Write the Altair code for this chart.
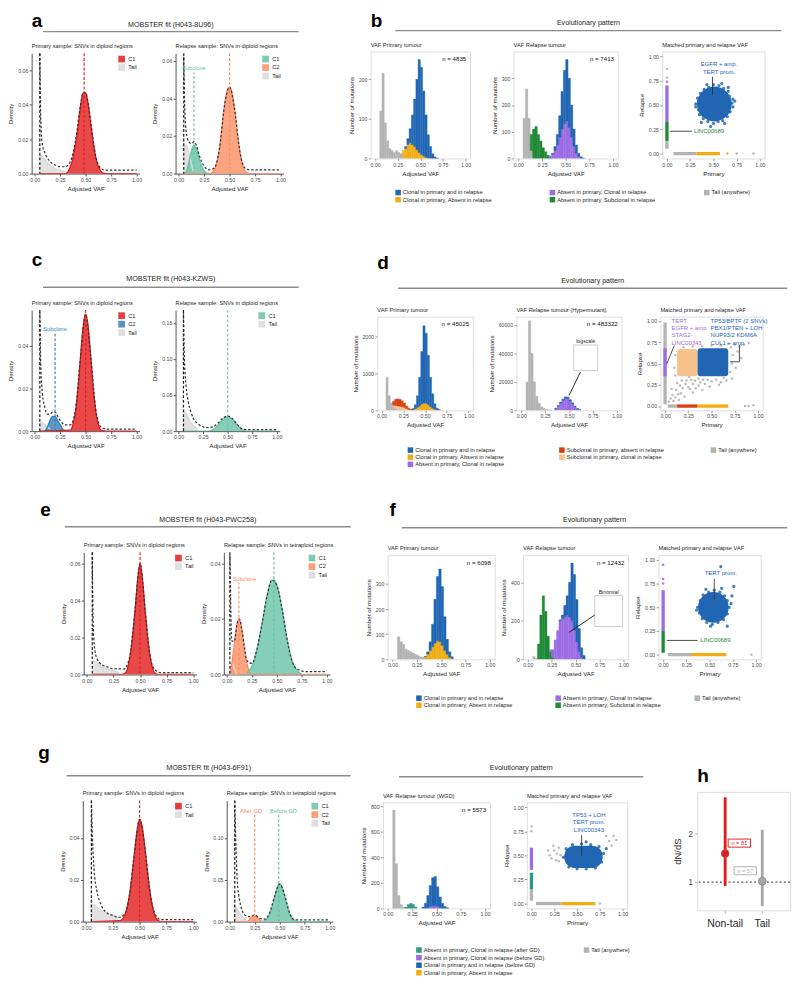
import altair as alt
import pandas as pd

FONT = "Liberation Sans"
TXT = "#262626"
AXC = "#4d4d4d"

# ---------------- colours ----------------
C_TAIL = "#d9d9d9"
C_RED = "#e41a1c"
C_GREEN = "#66c2a5"
C_ORANGE = "#fc8d62"
C_BLUE = "#377eb8"
E_BLUE = "#2166b3"
E_ORANGE = "#f2ad13"
E_PURPLE = "#9c6ce6"
E_GREEN = "#1e8a36"
E_RED = "#d8410f"
E_PEACH = "#f7c18c"
E_GRAY = "#b3b3b3"
E_TEAL = "#2e9b88"
H_GRAY = "#a6a6a6"

VAF_TICKS = [0, 0.25, 0.5, 0.75, 1.0]

# ================= MOBSTER density panels =================
A1_TAIL_X = [0.05, 0.075, 0.1, 0.125, 0.15, 0.175, 0.2, 0.25, 0.3]
A1_TAIL_Y = [0.011, 0.010, 0.008, 0.006, 0.005, 0.004, 0.003, 0.002, 0.001]
A1_C1_X = [0.05, 0.3, 0.325, 0.35, 0.375, 0.4, 0.425, 0.45, 0.475, 0.5, 0.525, 0.55, 0.575, 0.6, 0.625, 0.65, 0.675, 0.7, 1.0]
A1_C1_Y = [0.0, 0.0, 0.001, 0.004, 0.009, 0.017, 0.027, 0.039, 0.047, 0.047, 0.040, 0.029, 0.018, 0.009, 0.004, 0.0015, 0.0003, 0.0, 0.0]
A1_FIT_X = [0.05, 0.06, 0.075, 0.1, 0.125, 0.15, 0.2, 0.25, 0.3, 0.35, 0.4, 0.45, 0.475, 0.5, 0.525, 0.55, 0.6, 0.65, 0.7, 0.8, 0.9, 1.0]
A1_FIT_Y = [0.07, 0.03, 0.017, 0.012, 0.009, 0.007, 0.005, 0.004, 0.004, 0.007, 0.019, 0.040, 0.047, 0.047, 0.041, 0.030, 0.010, 0.003, 0.002, 0.002, 0.002, 0.002]
A2_TAIL_X = [0.05, 0.075, 0.1, 0.125, 0.15]
A2_TAIL_Y = [0.014, 0.015, 0.011, 0.005, 0.0]
A2_C1_X = [0.05, 0.075, 0.1, 0.125, 0.15, 0.175, 0.2, 0.225, 0.25, 0.275, 0.3]
A2_C1_Y = [0.0, 0.001, 0.006, 0.012, 0.015, 0.013, 0.008, 0.004, 0.0015, 0.0003, 0.0]
A2_C2_X = [0.05, 0.3, 0.325, 0.35, 0.375, 0.4, 0.425, 0.45, 0.475, 0.5, 0.525, 0.55, 0.575, 0.6, 0.625, 0.65, 0.675, 0.7, 1.0]
A2_C2_Y = [0.0, 0.0, 0.0005, 0.002, 0.006, 0.013, 0.024, 0.036, 0.044, 0.046, 0.043, 0.034, 0.022, 0.012, 0.005, 0.0015, 0.0003, 0.0, 0.0]
A2_FIT_X = [0.05, 0.06, 0.075, 0.1, 0.125, 0.15, 0.175, 0.2, 0.25, 0.3, 0.35, 0.4, 0.45, 0.5, 0.55, 0.6, 0.65, 0.7, 0.8, 0.9, 1.0]
A2_FIT_Y = [0.062, 0.035, 0.022, 0.017, 0.016, 0.017, 0.015, 0.01, 0.004, 0.002, 0.003, 0.013, 0.036, 0.046, 0.034, 0.012, 0.003, 0.002, 0.002, 0.002, 0.002]
C1_TAIL_X = [0.05, 0.075, 0.1, 0.125, 0.15]
C1_TAIL_Y = [0.004, 0.004, 0.003, 0.002, 0.001]
C1_C2_X = [0.1, 0.125, 0.15, 0.175, 0.2, 0.225, 0.25, 0.275, 0.3]
C1_C2_Y = [0.0, 0.002, 0.005, 0.007, 0.007, 0.005, 0.003, 0.001, 0.0]
C1_C1_X = [0.05, 0.35, 0.375, 0.4, 0.425, 0.45, 0.475, 0.5, 0.525, 0.55, 0.575, 0.6, 0.625, 0.65, 0.7, 1.0]
C1_C1_Y = [0.0, 0.0005, 0.003, 0.009, 0.02, 0.035, 0.049, 0.055, 0.049, 0.035, 0.02, 0.009, 0.003, 0.0005, 0.0, 0.0]
C1_FIT_X = [0.05, 0.06, 0.075, 0.1, 0.125, 0.15, 0.175, 0.2, 0.225, 0.25, 0.3, 0.35, 0.4, 0.45, 0.5, 0.55, 0.6, 0.65, 0.7, 0.8, 0.9, 1.0]
C1_FIT_Y = [0.056, 0.03, 0.018, 0.011, 0.008, 0.008, 0.009, 0.009, 0.007, 0.005, 0.003, 0.003, 0.01, 0.035, 0.055, 0.035, 0.01, 0.002, 0.001, 0.001, 0.001, 0.001]
C2_TAIL_X = [0.05, 0.075, 0.1, 0.125, 0.15, 0.175, 0.2]
C2_TAIL_Y = [0.03, 0.025, 0.018, 0.012, 0.008, 0.005, 0.002]
C2_C1_X = [0.05, 0.3, 0.35, 0.4, 0.45, 0.5, 0.55, 0.6, 0.65, 0.7, 1.0]
C2_C1_Y = [0.0, 0.0, 0.002, 0.008, 0.016, 0.02, 0.016, 0.008, 0.002, 0.0, 0.0]
C2_FIT_X = [0.05, 0.06, 0.075, 0.1, 0.125, 0.15, 0.2, 0.25, 0.3, 0.35, 0.4, 0.45, 0.5, 0.55, 0.6, 0.65, 0.7, 0.8, 0.9, 1.0]
C2_FIT_Y = [0.165, 0.1, 0.065, 0.04, 0.027, 0.018, 0.01, 0.006, 0.005, 0.006, 0.011, 0.018, 0.021, 0.017, 0.009, 0.003, 0.002, 0.002, 0.002, 0.002]
E1_TAIL_X = [0.05, 0.075, 0.1, 0.15, 0.2, 0.25, 0.3]
E1_TAIL_Y = [0.007, 0.007, 0.006, 0.004, 0.003, 0.002, 0.001]
E1_C1_X = [0.05, 0.33, 0.35, 0.375, 0.4, 0.425, 0.45, 0.475, 0.5, 0.525, 0.55, 0.575, 0.6, 0.625, 0.65, 0.68, 1.0]
E1_C1_Y = [0.0, 0.0, 0.0004, 0.002, 0.008, 0.018, 0.033, 0.05, 0.06, 0.05, 0.033, 0.018, 0.008, 0.002, 0.0004, 0.0, 0.0]
E1_FIT_X = [0.05, 0.06, 0.075, 0.1, 0.15, 0.2, 0.25, 0.3, 0.35, 0.4, 0.45, 0.5, 0.55, 0.6, 0.65, 0.7, 0.8, 0.9, 1.0]
E1_FIT_Y = [0.066, 0.025, 0.013, 0.008, 0.005, 0.004, 0.003, 0.003, 0.003, 0.009, 0.033, 0.06, 0.033, 0.008, 0.002, 0.001, 0.001, 0.001, 0.001]
E2_TAIL_X = [0.03, 0.05, 0.075, 0.1]
E2_TAIL_Y = [0.004, 0.004, 0.002, 0.0]
E2_C2_X = [0.03, 0.05, 0.075, 0.1, 0.125, 0.15, 0.175, 0.2, 0.225, 0.25, 1.0]
E2_C2_Y = [0.0, 0.004, 0.011, 0.018, 0.02, 0.016, 0.009, 0.004, 0.001, 0.0, 0.0]
E2_C1_X = [0.2, 0.25, 0.3, 0.35, 0.4, 0.45, 0.475, 0.5, 0.55, 0.6, 0.65, 0.7, 0.75]
E2_C1_Y = [0.0006, 0.003, 0.009, 0.018, 0.028, 0.034, 0.034, 0.032, 0.024, 0.013, 0.005, 0.0015, 0.0]
E2_FIT_X = [0.03, 0.05, 0.075, 0.1, 0.125, 0.15, 0.175, 0.2, 0.25, 0.3, 0.35, 0.4, 0.45, 0.5, 0.55, 0.6, 0.65, 0.7, 0.8, 0.9, 1.0]
E2_FIT_Y = [0.043, 0.012, 0.012, 0.018, 0.02, 0.016, 0.01, 0.005, 0.004, 0.009, 0.018, 0.028, 0.034, 0.032, 0.024, 0.013, 0.005, 0.002, 0.001, 0.001, 0.001]
G1_TAIL_X = [0.05, 0.075, 0.1, 0.15, 0.2, 0.25, 0.3]
G1_TAIL_Y = [0.008, 0.008, 0.007, 0.005, 0.004, 0.003, 0.002]
G1_C1_X = [0.05, 0.32, 0.35, 0.375, 0.4, 0.425, 0.45, 0.475, 0.5, 0.525, 0.55, 0.575, 0.6, 0.625, 0.65, 0.675, 0.7, 1.0]
G1_C1_Y = [0.0, 0.0005, 0.002, 0.005, 0.011, 0.02, 0.032, 0.043, 0.049, 0.045, 0.035, 0.023, 0.013, 0.006, 0.002, 0.0005, 0.0, 0.0]
G1_FIT_X = [0.05, 0.06, 0.075, 0.1, 0.125, 0.15, 0.2, 0.25, 0.3, 0.35, 0.4, 0.45, 0.5, 0.55, 0.6, 0.65, 0.7, 0.8, 0.9, 1.0]
G1_FIT_Y = [0.058, 0.04, 0.025, 0.015, 0.01, 0.007, 0.004, 0.003, 0.002, 0.003, 0.011, 0.032, 0.049, 0.035, 0.013, 0.003, 0.001, 0.001, 0.001, 0.001]
G2_TAIL_X = [0.05, 0.075, 0.1, 0.125, 0.15, 0.175]
G2_TAIL_Y = [0.02, 0.015, 0.01, 0.006, 0.003, 0.0]
G2_C2_X = [0.05, 0.175, 0.2, 0.225, 0.25, 0.275, 0.3, 0.325]
G2_C2_Y = [0.0, 0.0, 0.003, 0.006, 0.007, 0.005, 0.002, 0.0]
G2_C1_X = [0.3, 0.35, 0.375, 0.4, 0.425, 0.45, 0.475, 0.5, 0.525, 0.55, 0.575, 0.6, 0.625, 0.65, 0.7, 1.0]
G2_C1_Y = [0.0, 0.001, 0.004, 0.009, 0.018, 0.03, 0.041, 0.045, 0.041, 0.03, 0.018, 0.009, 0.004, 0.001, 0.0, 0.0]
G2_FIT_X = [0.05, 0.06, 0.075, 0.1, 0.125, 0.15, 0.2, 0.25, 0.3, 0.35, 0.4, 0.45, 0.5, 0.55, 0.6, 0.65, 0.7, 0.8, 0.9, 1.0]
G2_FIT_Y = [0.145, 0.1, 0.05, 0.025, 0.013, 0.008, 0.006, 0.008, 0.004, 0.003, 0.011, 0.031, 0.045, 0.031, 0.01, 0.002, 0.002, 0.002, 0.002, 0.002]

# ================= VAF histograms (bin starts, width 0.025) =================
HIST_BINS = [0.05, 0.075, 0.1, 0.125, 0.15, 0.175, 0.2, 0.225, 0.25, 0.275, 0.3, 0.325, 0.35,
             0.375, 0.4, 0.425, 0.45, 0.475, 0.5, 0.525, 0.55, 0.575, 0.6, 0.625, 0.65, 0.675]
BIN_W = 0.025
B1_TAIL   = [120, 215, 90, 45, 25, 20, 15, 20, 15, 12, 5, 0, 0, 0, 0, 0, 0, 0, 0, 0, 0, 0, 0, 0, 0, 0]
B1_ORANGE = [0, 0, 0, 0, 0, 0, 0, 0, 0, 0, 15, 25, 35, 40, 35, 30, 22, 15, 10, 6, 3, 1, 0, 0, 0, 0]
B1_BLUE   = [0, 0, 0, 0, 0, 0, 0, 0, 0, 0, 0, 5, 15, 35, 75, 120, 178, 235, 220, 164, 107, 59, 30, 12, 4, 1]
B2_TAIL   = [150, 260, 150, 30, 0, 0, 0, 0, 0, 0, 0, 0, 0, 0, 0, 0, 0, 0, 0, 0, 0, 0, 0, 0, 0, 0]
B2_GREEN  = [0, 0, 0, 60, 110, 120, 90, 65, 40, 25, 12, 4, 0, 0, 0, 0, 0, 0, 0, 0, 0, 0, 0, 0, 0, 0]
B2_PURPLE = [0, 0, 0, 0, 0, 0, 0, 0, 0, 0, 0, 5, 15, 30, 50, 80, 110, 130, 140, 115, 80, 45, 20, 8, 2, 0]
B2_BLUE   = [0, 0, 0, 0, 0, 0, 0, 0, 0, 0, 0, 0, 5, 15, 40, 80, 140, 200, 230, 185, 120, 65, 30, 12, 4, 1]
D1_TAIL   = [900, 400, 200, 100, 50, 20, 0, 0, 0, 0, 0, 0, 0, 0, 0, 0, 0, 0, 0, 0, 0, 0, 0, 0, 0, 0]
D1_PEACH  = [0, 0, 0, 40, 80, 100, 110, 100, 80, 50, 25, 10, 0, 0, 0, 0, 0, 0, 0, 0, 0, 0, 0, 0, 0, 0]
D1_RED    = [0, 0, 0, 110, 170, 190, 190, 160, 120, 70, 35, 20, 20, 0, 0, 0, 0, 0, 0, 0, 0, 0, 0, 0, 0, 0]
D1_ORANGE = [0, 0, 0, 0, 0, 0, 0, 0, 0, 0, 0, 0, 0, 40, 80, 120, 170, 200, 190, 150, 100, 60, 30, 10, 0, 0]
D1_BLUE   = [0, 0, 0, 0, 0, 0, 0, 0, 0, 0, 0, 0, 30, 110, 320, 780, 1430, 2100, 1910, 1350, 800, 390, 150, 50, 20, 0]
D2_TAIL   = [20000, 63000, 40000, 20000, 10000, 5000, 2500, 1500, 800, 400, 200, 0, 0, 0, 0, 0, 0, 0, 0, 0, 0, 0, 0, 0, 0, 0]
D2_PEACH  = [0, 0, 0, 0, 0, 0, 0, 0, 0, 0, 0, 0, 200, 400, 500, 400, 300, 200, 0, 0, 0, 0, 0, 0, 0, 0]
D2_PURPLE = [0, 0, 0, 0, 0, 0, 0, 0, 0, 0, 0, 0, 1000, 2500, 4500, 6500, 8000, 8000, 6500, 4500, 2500, 1000, 300, 0, 0, 0]
D2_BLUE   = [0, 0, 0, 0, 0, 0, 0, 0, 0, 0, 0, 0, 200, 500, 800, 1000, 1200, 1200, 1000, 800, 500, 300, 100, 0, 0, 0]
F1_TAIL   = [90, 70, 60, 40, 35, 30, 25, 20, 15, 10, 8, 0, 0, 0, 0, 0, 0, 0, 0, 0, 0, 0, 0, 0, 0, 0]
F1_ORANGE = [0, 0, 0, 0, 0, 0, 0, 0, 0, 0, 0, 10, 20, 35, 50, 65, 75, 70, 55, 35, 20, 8, 3, 0, 0, 0]
F1_BLUE   = [0, 0, 0, 0, 0, 0, 0, 0, 0, 0, 0, 2, 10, 35, 90, 175, 255, 290, 235, 135, 60, 22, 7, 0, 0, 0]
F2_TAIL   = [15, 5, 0, 0, 0, 0, 0, 0, 0, 0, 0, 0, 0, 0, 0, 0, 0, 0, 0, 0, 0, 0, 0, 0, 0, 0]
F2_GREEN  = [0, 0, 80, 230, 330, 250, 120, 40, 10, 0, 0, 0, 0, 0, 0, 0, 0, 0, 0, 0, 0, 0, 0, 0, 0, 0]
F2_PURPLE = [0, 0, 0, 0, 0, 0, 0, 10, 40, 100, 150, 200, 210, 220, 230, 220, 200, 150, 90, 40, 10, 0, 0, 0, 0, 0]
F2_BLUE   = [0, 0, 0, 0, 0, 0, 0, 0, 0, 0, 0, 5, 20, 60, 100, 180, 300, 290, 220, 120, 50, 20, 0, 0, 0, 0]
G_TAIL    = [770, 350, 100, 30, 10, 0, 0, 0, 0, 0, 0, 0, 0, 0, 0, 0, 0, 0, 0, 0, 0, 0, 0, 0, 0, 0]
G_TEAL    = [0, 0, 0, 0, 0, 10, 30, 40, 30, 10, 0, 0, 0, 0, 0, 0, 0, 0, 0, 0, 0, 0, 0, 0, 0, 0]
G_PURPLE  = [0, 0, 0, 0, 0, 0, 0, 0, 0, 0, 0, 0, 0, 0, 5, 15, 20, 20, 15, 5, 0, 0, 0, 0, 0, 0]
G_BLUE    = [0, 0, 0, 0, 0, 0, 0, 0, 0, 0, 0, 0, 10, 40, 95, 165, 220, 230, 155, 85, 40, 15, 5, 0, 0, 0]

# insets: (x0, x1, y0, y1, label, arrow_x0, arrow_y0, arrow_x1, arrow_y1)
D2_INSET = [(0.55, 0.80, 28000, 46000, "logscale", 0.50, 10500, 0.62, 27000)]
F2_INSET = [(0.70, 0.99, 170, 330, "Binomial", 0.43, 140, 0.70, 230)]

# ================= matched VAF scatter panels =================
B_STRIPS = [(0.0, 0.0, 0.05, 0.13, E_GRAY), (0.0, 0.0, 0.13, 0.33, E_GREEN), (0.0, 0.0, 0.33, 0.70, E_PURPLE),
            (0.07, 0.32, 0.0, 0.0, E_GRAY), (0.32, 0.57, 0.0, 0.0, E_ORANGE)]
B_DOTS = [(0.0, 0.78, E_GRAY), (0.0, 0.87, E_GRAY), (0.0, 0.74, E_PURPLE), (0.65, 0.0, E_ORANGE),
          (0.75, 0.0, E_GRAY), (0.93, 0.0, E_GRAY)]
B_DISC = [(0.51, 0.51)]
B_EDGE = [(0.70, 0.52), (0.67, 0.59), (0.66, 0.64), (0.61, 0.67), (0.56, 0.70), (0.50, 0.71), (0.45, 0.68),
          (0.40, 0.66), (0.36, 0.62), (0.33, 0.57), (0.31, 0.51), (0.34, 0.45), (0.35, 0.40), (0.39, 0.36),
          (0.44, 0.33), (0.50, 0.31), (0.55, 0.33), (0.60, 0.34), (0.65, 0.38), (0.68, 0.43), (0.71, 0.48),
          (0.71, 0.56), (0.59, 0.72), (0.43, 0.71), (0.31, 0.48), (0.37, 0.32), (0.62, 0.31), (0.73, 0.54),
          (0.47, 0.28), (0.66, 0.68)]
B_LABELS = [("EGFR + amp.", 0.56, 0.92, E_BLUE, "center"), ("TERT prom.", 0.56, 0.84, E_BLUE, "center"),
            ("LINC00689", 0.29, 0.23, E_GREEN, "left")]
B_LEADERS = [(0.49, 0.79, 0.49, 0.60, "#333333"), (0.03, 0.23, 0.27, 0.23, "#333333")]

D_STRIPS = [(0.0, 0.0, 0.02, 0.98, E_GRAY), (0.0, 0.0, 0.35, 0.68, E_PURPLE),
            (0.03, 0.13, 0.0, 0.0, E_GRAY), (0.13, 0.35, 0.0, 0.0, E_RED), (0.35, 0.68, 0.0, 0.0, E_ORANGE)]
D_DOTS = [(0.86, 0.0, E_GRAY), (0.90, 0.0, E_GRAY), (0.95, 0.01, E_GRAY)]
D_BLOBS = [(0.13, 0.35, 0.35, 0.67, E_PEACH), (0.35, 0.68, 0.35, 0.68, E_BLUE)]
D_GRAY = [(0.04, 0.05), (0.06, 0.09), (0.09, 0.06), (0.08, 0.13), (0.11, 0.10), (0.14, 0.14), (0.12, 0.19),
          (0.17, 0.15), (0.19, 0.21), (0.16, 0.24), (0.22, 0.26), (0.25, 0.22), (0.23, 0.30), (0.28, 0.31),
          (0.30, 0.26), (0.26, 0.34), (0.32, 0.30), (0.36, 0.32), (0.33, 0.21), (0.38, 0.28), (0.41, 0.31),
          (0.43, 0.26), (0.46, 0.31), (0.50, 0.29), (0.55, 0.31), (0.60, 0.28), (0.63, 0.33), (0.48, 0.23),
          (0.40, 0.19), (0.30, 0.16), (0.21, 0.11), (0.15, 0.07), (0.70, 0.40), (0.72, 0.50), (0.73, 0.60),
          (0.71, 0.69), (0.75, 0.72), (0.78, 0.64), (0.80, 0.70), (0.76, 0.45), (0.72, 0.32), (0.82, 0.56),
          (0.68, 0.73), (0.60, 0.71), (0.50, 0.71), (0.40, 0.70), (0.30, 0.70), (0.20, 0.69), (0.11, 0.60),
          (0.10, 0.45), (0.11, 0.36), (0.90, 0.74), (0.85, 0.72), (0.18, 0.30), (0.13, 0.27), (0.07, 0.20),
          (0.66, 0.30), (0.58, 0.25), (0.36, 0.24), (0.27, 0.20)]
D_LABELS = [("TERT", 0.07, 1.0, E_PURPLE, "left"), ("EGFR + amp", 0.07, 0.92, E_PURPLE, "left"),
            ("STAG2-", 0.07, 0.83, E_PURPLE, "left"), ("LINC00343", 0.07, 0.74, E_PURPLE, "left"),
            ("TP53/BPTF (2 SNVs)", 0.49, 1.0, E_BLUE, "left"), ("PBX1/PTEN + LOH", 0.49, 0.92, E_BLUE, "left"),
            ("NUP93/2 KDM6A", 0.49, 0.83, E_BLUE, "left"), ("CUL1 + amp", 0.49, 0.74, E_BLUE, "left")]
D_LEADERS = [(0.02, 0.50, 0.10, 0.71, "#333333"), (0.70, 0.52, 0.80, 0.52, "#333333"),
             (0.80, 0.52, 0.80, 0.72, "#333333")]

F_STRIPS = [(0.0, 0.0, 0.02, 0.25, E_GREEN), (0.0, 0.0, 0.25, 0.68, E_PURPLE),
            (0.05, 0.30, 0.0, 0.0, E_GRAY), (0.30, 0.68, 0.0, 0.0, E_ORANGE)]
F_DOTS = [(0.0, 0.75, E_PURPLE), (0.0, 0.80, E_PURPLE), (0.0, 0.95, E_PURPLE), (0.95, 0.0, E_GRAY)]
F_DISC = [(0.54, 0.50)]
F_EDGE = [(0.71, 0.50), (0.69, 0.57), (0.66, 0.62), (0.61, 0.66), (0.55, 0.68), (0.49, 0.66), (0.43, 0.63),
          (0.40, 0.57), (0.37, 0.50), (0.39, 0.44), (0.42, 0.38), (0.47, 0.34), (0.53, 0.32), (0.59, 0.34),
          (0.65, 0.37), (0.69, 0.43), (0.73, 0.54), (0.63, 0.70), (0.46, 0.69), (0.36, 0.47), (0.51, 0.30),
          (0.69, 0.30), (0.76, 0.72), (0.62, 0.93), (0.74, 0.62)]
F_LABELS = [("TERT prom.", 0.62, 0.86, E_BLUE, "center"), ("LINC00689", 0.40, 0.15, E_GREEN, "left")]
F_LEADERS = [(0.55, 0.80, 0.55, 0.58, "#333333"), (0.04, 0.15, 0.37, 0.15, "#333333")]

G_STRIPS = [(0.0, 0.0, 0.03, 0.15, E_GRAY), (0.0, 0.0, 0.15, 0.32, E_TEAL), (0.0, 0.0, 0.35, 0.58, E_PURPLE),
            (0.05, 0.33, 0.0, 0.0, E_GRAY), (0.33, 0.70, 0.0, 0.0, E_ORANGE)]
G_DOTS = [(0.0, 0.75, E_GRAY), (0.0, 0.80, E_GRAY), (0.75, 0.0, E_GRAY)]
G_BLOBS = [(0.36, 0.78, 0.37, 0.60, E_BLUE)]
G_EDGE = [(0.35, 0.48), (0.38, 0.57), (0.45, 0.61), (0.55, 0.62), (0.65, 0.61), (0.74, 0.59), (0.79, 0.52),
          (0.77, 0.43), (0.70, 0.37), (0.60, 0.36), (0.50, 0.36), (0.41, 0.38), (0.82, 0.57), (0.60, 0.64)]
G_GRAY = [(0.20, 0.50), (0.22, 0.47), (0.25, 0.55), (0.28, 0.52), (0.30, 0.58), (0.24, 0.60), (0.27, 0.45),
          (0.32, 0.50), (0.18, 0.55), (0.30, 0.44), (0.85, 0.65), (0.88, 0.60), (0.90, 0.70), (0.82, 0.70),
          (0.93, 0.66)]
G_LABELS = [("TP53 + LOH", 0.63, 0.92, E_BLUE, "center"), ("TERT prom.", 0.63, 0.84, E_BLUE, "center"),
            ("LINC00343", 0.63, 0.76, E_BLUE, "center")]
G_LEADERS = [(0.55, 0.71, 0.55, 0.50, "#333333")]

# ================= legends =================
LEG_B = [[("Clonal in primary and in relapse", E_BLUE), ("Clonal in primary, Absent in relapse", E_ORANGE)],
         [("Absent in primary, Clonal in relapse", E_PURPLE), ("Absent in primary, Subclonal in relapse", E_GREEN)],
         [("Tail (anywhere)", E_GRAY)]]
LEG_D = [[("Clonal in primary and in relapse", E_BLUE), ("Clonal in primary, Absent in relapse", E_ORANGE),
          ("Absent in primary, Clonal in relapse", E_PURPLE)],
         [("Subclonal in primary, absent in relapse", E_RED), ("Subclonal in primary, clonal in relapse", E_PEACH)],
         [("Tail (anywhere)", E_GRAY)]]
LEG_G = [[("Absent in primary, Clonal in relapse (after GD)", E_TEAL),
          ("Absent in primary, Clonal in relapse (before GD)", E_PURPLE),
          ("Clonal in primary and in relapse (before GD)", E_BLUE),
          ("Clonal in primary, Absent in relapse", E_ORANGE)],
         [("Tail (anywhere)", E_GRAY)]]

# ================= h : dN/dS =================
H_CATS = ["Non-tail", "Tail"]
H_EST = [1.59, 1.02]
H_LO = [0.92, 0.51]
H_HI = [2.75, 2.08]
H_N = [81, 57]
H_COLORS = [C_RED, H_GRAY]
H_NEUTRAL = [1.0]


# ---------------------------------------------------------------- helpers
def sub_title(text):
    return alt.TitleParams(text=text, fontSize=6, fontWeight="normal", color=TXT,
                           anchor="start", frame="group", offset=4)


def axis(title, values, fmt, line, title_pad=3):
    return alt.Axis(title=title, values=values, format=fmt, grid=False,
                    domain=line, domainColor=AXC, domainWidth=1,
                    ticks=True, tickColor=AXC if line else "#9a9a9a", tickSize=2.5,
                    labelFontSize=5.5, labelColor=AXC, labelPadding=1.5,
                    titleFontSize=6.5, titleColor=TXT, titleFontWeight="normal",
                    titlePadding=title_pad)


def density_panel(title, comps, legend_names, legend_colors, fit_x, fit_y, tail_x, means,
                  ymax, yticks, width, height):
    xs = alt.Scale(domain=[-0.03, 1.03], nice=False, zero=False)
    ys = alt.Scale(domain=[0, ymax], nice=False)
    xa = axis("Adjusted VAF", VAF_TICKS, ".2f", True)
    ya = axis("Density", yticks, ".2f", True, 4)
    rows = []
    for name, cx, cy in comps:
        for x, y in zip(cx, cy, strict=True):
            rows.append({"comp": name, "x": x, "y": y})
    area = alt.Chart(pd.DataFrame(rows)).mark_area(
        opacity=0.8, interpolate="monotone", clip=True, line={"strokeWidth": 1.4}
    ).encode(
        x=alt.X("x:Q", scale=xs, axis=xa),
        y=alt.Y("y:Q", scale=ys, axis=ya, stack=None),
        color=alt.Color("comp:N", scale=alt.Scale(domain=legend_names, range=legend_colors),
                        legend=alt.Legend(orient="top-right", title=None, symbolType="square",
                                          symbolSize=50, labelFontSize=6, labelColor=TXT,
                                          rowPadding=1, offset=2, symbolStrokeWidth=0,
                                          symbolOpacity=0.85, labelOffset=3)),
    )
    fdf = pd.DataFrame({"x": fit_x, "y": fit_y})
    fit = alt.Chart(fdf).mark_line(color="#333333", strokeDash=[2.5, 2], strokeWidth=1.3,
                                   interpolate="monotone", clip=True).encode(
        x=alt.X("x:Q", scale=xs, axis=xa), y=alt.Y("y:Q", scale=ys, axis=ya))
    spike = alt.Chart(pd.DataFrame({"x": [tail_x]})).mark_rule(
        color="#222222", strokeDash=[3, 2], strokeWidth=1.3).encode(x=alt.X("x:Q", scale=xs, axis=xa))
    layers = [area, fit, spike]
    for mx, mc, mtop, mlab, mdx in means:
        if mtop is None:
            layers.append(alt.Chart(pd.DataFrame({"x": [mx]})).mark_rule(
                color=mc, strokeDash=[3, 2], strokeWidth=1.2).encode(x=alt.X("x:Q", scale=xs, axis=xa)))
        else:
            md = pd.DataFrame({"x": [mx], "y0": [0.0], "y1": [mtop], "lab": [mlab]})
            layers.append(alt.Chart(md).mark_rule(color=mc, strokeDash=[3, 2], strokeWidth=1.2).encode(
                x=alt.X("x:Q", scale=xs, axis=xa), y=alt.Y("y0:Q", scale=ys, axis=ya), y2="y1:Q"))
            layers.append(alt.Chart(md).mark_text(color=mc, fontSize=6, baseline="bottom", dy=-1, dx=mdx).encode(
                x=alt.X("x:Q", scale=xs, axis=xa), y=alt.Y("y1:Q", scale=ys, axis=ya), text="lab:N"))
    return alt.layer(*layers).properties(width=width, height=height, title=sub_title(title))


VIEW_BOX = alt.ViewBackground(stroke="#dcdcdc", strokeWidth=1)


def hist_panel(title, series, ymax, yticks, n_text, width, height, insets=()):
    xs = alt.Scale(domain=[-0.05, 1.05], nice=False, zero=False)
    ys = alt.Scale(domain=[0, ymax], nice=False)
    xa = axis("Adjusted VAF", VAF_TICKS, ".2f", False)
    ya = axis("Number of mutations", yticks, "d", False, 4)
    rows = []
    base = [0] * len(HIST_BINS)
    for color, counts in series:
        for i, (x0, c) in enumerate(zip(HIST_BINS, counts, strict=True)):
            if c > 0:
                rows.append({"x0": x0, "x1": x0 + BIN_W, "lo": base[i], "hi": base[i] + c, "col": color})
            base[i] += c
    bars = alt.Chart(pd.DataFrame(rows)).mark_rect(clip=True, strokeWidth=0.4).encode(
        x=alt.X("x0:Q", scale=xs, axis=xa), x2="x1:Q",
        y=alt.Y("lo:Q", scale=ys, axis=ya), y2="hi:Q",
        color=alt.Color("col:N", scale=None), stroke=alt.Stroke("col:N", scale=None))
    ntxt = alt.Chart(alt.Data(values=[{"t": n_text}])).mark_text(
        align="right", baseline="top", fontSize=6.5, color="#111111").encode(
        x=alt.value(width - 4), y=alt.value(5), text="t:N")
    layers = [bars, ntxt]
    if insets:
        idf = pd.DataFrame([{"x0": a, "x1": b, "y0": c, "y1": d, "lab": e, "ax0": f, "ay0": g,
                             "ax1": h, "ay1": k} for a, b, c, d, e, f, g, h, k in insets])
        layers.append(alt.Chart(idf).mark_rect(fill="white", stroke="#bbbbbb", strokeWidth=0.8).encode(
            x=alt.X("x0:Q", scale=xs, axis=xa), x2="x1:Q", y=alt.Y("y0:Q", scale=ys, axis=ya), y2="y1:Q"))
        layers.append(alt.Chart(idf).mark_text(fontSize=5.5, baseline="bottom", dy=-1, color=TXT).encode(
            x=alt.X("xm:Q", scale=xs, axis=xa), y=alt.Y("y1:Q", scale=ys, axis=ya), text="lab:N"
        ).transform_calculate(xm="(datum.x0 + datum.x1) / 2"))
        layers.append(alt.Chart(idf).mark_rule(color="#222222", strokeWidth=1).encode(
            x=alt.X("ax0:Q", scale=xs, axis=xa), x2="ax1:Q", y=alt.Y("ay0:Q", scale=ys, axis=ya), y2="ay1:Q"))
    return alt.layer(*layers).properties(width=width, height=height, title=sub_title(title), view=VIEW_BOX)


def scatter_panel(title, width, height, strips, dots, labels, leaders, disc=None, disc_size=0,
                  edge=None, blobs=None, blob_radius=0, gray=None):
    xs = alt.Scale(domain=[-0.05, 1.05], nice=False, zero=False)
    ys = alt.Scale(domain=[-0.05, 1.05], nice=False, zero=False)
    xa = axis("Primary", VAF_TICKS, ".2f", False)
    ya = axis("Relapse", VAF_TICKS, ".2f", False, 4)

    def X(f):
        return alt.X(f, type="quantitative", scale=xs, axis=xa)

    def Y(f):
        return alt.Y(f, type="quantitative", scale=ys, axis=ya)

    layers = []
    if gray:
        gdf = pd.DataFrame(gray, columns=["x", "y"])
        layers.append(alt.Chart(gdf).mark_circle(size=7, color=E_GRAY, opacity=0.9).encode(x=X("x"), y=Y("y")))
    if blobs:
        bdf = pd.DataFrame(blobs, columns=["x0", "x1", "y0", "y1", "col"])
        layers.append(alt.Chart(bdf).mark_rect(cornerRadius=blob_radius, opacity=1).encode(
            x=X("x0"), x2="x1:Q", y=Y("y0"), y2="y1:Q", color=alt.Color("col:N", scale=None)))
    if disc:
        ddf = pd.DataFrame(disc, columns=["x", "y"])
        layers.append(alt.Chart(ddf).mark_circle(size=disc_size, color=E_BLUE, opacity=1).encode(x=X("x"), y=Y("y")))
    if edge:
        edf = pd.DataFrame(edge, columns=["x", "y"])
        layers.append(alt.Chart(edf).mark_circle(size=12, color=E_BLUE, opacity=0.85).encode(x=X("x"), y=Y("y")))
    sdf = pd.DataFrame(strips, columns=["x0", "x1", "y0", "y1", "col"])
    layers.append(alt.Chart(sdf).mark_rule(strokeWidth=3.5, strokeCap="butt").encode(
        x=X("x0"), x2="x1:Q", y=Y("y0"), y2="y1:Q", color=alt.Color("col:N", scale=None)))
    odf = pd.DataFrame(dots, columns=["x", "y", "col"])
    layers.append(alt.Chart(odf).mark_circle(size=7, opacity=0.9).encode(
        x=X("x"), y=Y("y"), color=alt.Color("col:N", scale=None)))
    ldf = pd.DataFrame(leaders, columns=["x0", "y0", "x1", "y1", "col"])
    layers.append(alt.Chart(ldf).mark_rule(strokeWidth=0.9).encode(
        x=X("x0"), x2="x1:Q", y=Y("y0"), y2="y1:Q", color=alt.Color("col:N", scale=None)))
    tdf = pd.DataFrame(labels, columns=["t", "x", "y", "col", "al"])
    for al in ["left", "center"]:
        sub = tdf[tdf["al"] == al]
        if len(sub):
            layers.append(alt.Chart(sub).mark_text(align=al, baseline="middle", fontSize=6.3).encode(
                x=X("x"), y=Y("y"), text="t:N", color=alt.Color("col:N", scale=None)))
    return alt.layer(*layers).properties(width=width, height=height, title=sub_title(title), view=VIEW_BOX)


def legend_block(columns, x_first, col_step, width, height, row_step=7.5, y_first=4):
    rows = []
    for ci, col in enumerate(columns):
        for ri, (lab, colr) in enumerate(col):
            rows.append({"c": ci, "r": ri, "lab": lab, "col": colr})
    df = pd.DataFrame(rows)
    nc = max(len(columns) - 1, 1)
    nr = max(max(len(c) for c in columns) - 1, 1)
    xs = alt.Scale(domain=[0, nc], range=[x_first, x_first + col_step * nc], nice=False, zero=False)
    ys = alt.Scale(domain=[0, nr], range=[y_first, y_first + row_step * nr], nice=False, zero=False)
    base = alt.Chart(df).encode(x=alt.X("c:Q", scale=xs, axis=None), y=alt.Y("r:Q", scale=ys, axis=None))
    sq = base.mark_square(size=34, opacity=1).encode(color=alt.Color("col:N", scale=None))
    tx = base.mark_text(align="left", baseline="middle", dx=5, fontSize=6, color=TXT).encode(text="lab:N")
    return alt.layer(sq, tx).properties(width=width, height=height)


def header(letter, title, width, height, line_x0=0, line_x1=0, title_y=0, line_y=0, letter_x=0, letter_y=16):
    base = alt.Chart(alt.Data(values=[{"l": letter, "t": title}]))
    layers = [base.mark_text(align="left", baseline="alphabetic", fontSize=20, fontWeight="bold",
                             color="black").encode(x=alt.value(letter_x), y=alt.value(letter_y), text="l:N")]
    if title:
        layers.append(base.mark_text(align="center", baseline="middle", fontSize=7.5, color=TXT).encode(
            x=alt.value((line_x0 + line_x1) / 2), y=alt.value(title_y), text="t:N"))
        layers.append(base.mark_rule(color="#8c8c8c", strokeWidth=1.5).encode(
            x=alt.value(line_x0), x2=alt.value(line_x1), y=alt.value(line_y)))
    return alt.layer(*layers).properties(width=width, height=height)


def spacer(w):
    return alt.Chart(alt.Data(values=[{"v": 0}])).mark_point(opacity=0, size=1).encode(
        x=alt.value(0), y=alt.value(0)).properties(width=w, height=1)


def H(*charts, spacing):
    return alt.hconcat(*charts, spacing=spacing).resolve_scale(color="independent")


def V(*charts, spacing):
    return alt.vconcat(*charts, spacing=spacing).resolve_scale(color="independent")


def h_panel(width, height):
    df = pd.DataFrame({"cat": H_CATS, "est": H_EST, "lo": H_LO, "hi": H_HI,
                       "lab": ["n = %d" % n for n in H_N], "col": H_COLORS})
    ys = alt.Scale(domain=[0.42, 2.86], nice=False, zero=False)
    ya = alt.Axis(title="dN/dS", values=[1, 2], format="d", grid=False, domain=False, ticks=True,
                  tickColor="#aaaaaa", tickSize=3, labelFontSize=9, labelColor=AXC,
                  titleFontSize=10, titleColor=TXT, titleFontWeight="normal", titlePadding=6)
    xa = alt.Axis(title=None, labelAngle=0, labelFontSize=11, labelColor=TXT, domain=False,
                  ticks=True, tickColor="#aaaaaa", tickSize=3, labelPadding=5)
    xs = alt.Scale(domain=H_CATS, padding=0.5)

    def X():
        return alt.X("cat:N", scale=xs, axis=xa)

    neutral = alt.Chart(pd.DataFrame({"y": H_NEUTRAL})).mark_rule(
        color="#555555", strokeDash=[2, 2.5], strokeWidth=1.3).encode(y=alt.Y("y:Q", scale=ys, axis=ya))
    ci = alt.Chart(df).mark_rule(strokeWidth=3).encode(
        x=X(), y=alt.Y("lo:Q", scale=ys, axis=ya), y2="hi:Q", color=alt.Color("col:N", scale=None))
    pt = alt.Chart(df).mark_circle(size=70, opacity=1, stroke="#7a7a7a", strokeWidth=0.6).encode(
        x=X(), y=alt.Y("est:Q", scale=ys, axis=ya), color=alt.Color("col:N", scale=None))
    layers = [neutral, ci, pt]
    box_path = "M-1,-0.36H1V0.36H-1Z"
    for cat, dx, dy, colr in [("Non-tail", 15, -11, C_RED), ("Tail", -18, -11, "#b0b0b0")]:
        sub = df[df["cat"] == cat]
        layers.append(alt.Chart(sub).mark_point(shape=box_path, size=560, filled=True, fill="white",
                                                stroke=colr, strokeWidth=1, opacity=1,
                                                xOffset=dx, yOffset=dy).encode(
            x=X(), y=alt.Y("est:Q", scale=ys, axis=ya)))
        layers.append(alt.Chart(sub).mark_text(fontSize=6, dx=dx, dy=dy, color=colr).encode(
            x=X(), y=alt.Y("est:Q", scale=ys, axis=ya), text="lab:N"))
    return alt.layer(*layers).properties(width=width, height=height, view=VIEW_BOX)


# ---------------------------------------------------------------- panels
densA1 = density_panel("Primary sample: SNVs in diploid regions",
                       [("Tail", A1_TAIL_X, A1_TAIL_Y), ("C1", A1_C1_X, A1_C1_Y)],
                       ["C1", "Tail"], [C_RED, C_TAIL], A1_FIT_X, A1_FIT_Y, 0.05,
                       [(0.485, C_RED, None, None, 0)], 0.07, [0, 0.02, 0.04, 0.06], 114, 127)
densA2 = density_panel("Relapse sample: SNVs in diploid regions",
                       [("Tail", A2_TAIL_X, A2_TAIL_Y), ("C2", A2_C2_X, A2_C2_Y), ("C1", A2_C1_X, A2_C1_Y)],
                       ["C1", "C2", "Tail"], [C_GREEN, C_ORANGE, C_TAIL], A2_FIT_X, A2_FIT_Y, 0.05,
                       [(0.15, C_GREEN, 0.054, "Subclone", 0), (0.5, C_ORANGE, None, None, 0)],
                       0.064, [0, 0.02, 0.04, 0.06], 114, 127)
histB1 = hist_panel("VAF  Primary tumour", [(E_GRAY, B1_TAIL), (E_ORANGE, B1_ORANGE), (E_BLUE, B1_BLUE)],
                    270, [0, 100, 200], "n = 4835", 105, 113)
histB2 = hist_panel("VAF  Relapse tumour", [(E_GRAY, B2_TAIL), (E_GREEN, B2_GREEN), (E_PURPLE, B2_PURPLE),
                                           (E_BLUE, B2_BLUE)],
                    400, [0, 100, 200, 300], "n = 7413", 110, 113)
scatB = scatter_panel("Matched primary and relapse VAF", 108, 113, B_STRIPS, B_DOTS, B_LABELS, B_LEADERS,
                      disc=B_DISC, disc_size=1350, edge=B_EDGE)

densC1 = density_panel("Primary sample: SNVs in diploid regions",
                       [("Tail", C1_TAIL_X, C1_TAIL_Y), ("C2", C1_C2_X, C1_C2_Y), ("C1", C1_C1_X, C1_C1_Y)],
                       ["C1", "C2", "Tail"], [C_RED, C_BLUE, C_TAIL], C1_FIT_X, C1_FIT_Y, 0.05,
                       [(0.2, C_BLUE, 0.046, "Subclone", 0), (0.5, C_RED, None, None, 0)],
                       0.057, [0, 0.02, 0.04], 114, 128)
densC2 = density_panel("Relapse sample: SNVs in diploid regions",
                       [("Tail", C2_TAIL_X, C2_TAIL_Y), ("C1", C2_C1_X, C2_C1_Y)],
                       ["C1", "Tail"], [C_GREEN, C_TAIL], C2_FIT_X, C2_FIT_Y, 0.05,
                       [(0.5, C_GREEN, None, None, 0)], 0.168, [0, 0.05, 0.1, 0.15], 110, 128)
histD1 = hist_panel("VAF  Primary tumour", [(E_GRAY, D1_TAIL), (E_PEACH, D1_PEACH), (E_RED, D1_RED),
                                           (E_ORANGE, D1_ORANGE), (E_BLUE, D1_BLUE)],
                    2550, [0, 1000, 2000], "n = 45025", 101, 99)
histD2 = hist_panel("VAF  Relapse tumour (Hypermutant)", [(E_GRAY, D2_TAIL), (E_PEACH, D2_PEACH),
                                                         (E_PURPLE, D2_PURPLE), (E_BLUE, D2_BLUE)],
                    66000, [0, 20000, 40000, 60000], "n = 483322", 111, 99, insets=D2_INSET)
scatD = scatter_panel("Matched primary and relapse VAF", 108, 99, D_STRIPS, D_DOTS, D_LABELS, D_LEADERS,
                      blobs=D_BLOBS, blob_radius=3, gray=D_GRAY)

densE1 = density_panel("Primary sample: SNVs in diploid regions",
                       [("Tail", E1_TAIL_X, E1_TAIL_Y), ("C1", E1_C1_X, E1_C1_Y)],
                       ["C1", "Tail"], [C_RED, C_TAIL], E1_FIT_X, E1_FIT_Y, 0.05,
                       [(0.5, C_RED, None, None, 0)], 0.066, [0, 0.02, 0.04, 0.06], 119, 129)
densE2 = density_panel("Relapse sample: SNVs in tetraploid regions",
                       [("Tail", E2_TAIL_X, E2_TAIL_Y), ("C2", E2_C2_X, E2_C2_Y), ("C1", E2_C1_X, E2_C1_Y)],
                       ["C1", "C2", "Tail"], [C_GREEN, C_ORANGE, C_TAIL], E2_FIT_X, E2_FIT_Y, 0.03,
                       [(0.12, C_ORANGE, 0.033, "Subclone", 6), (0.47, C_GREEN, None, None, 0)],
                       0.044, [0, 0.02, 0.04], 112, 129)
histF1 = hist_panel("VAF  Primary tumour", [(E_GRAY, F1_TAIL), (E_ORANGE, F1_ORANGE), (E_BLUE, F1_BLUE)],
                    415, [0, 100, 200, 300], "n = 6098", 113, 110)
histF2 = hist_panel("VAF  Relapse tumour", [(E_GRAY, F2_TAIL), (E_GREEN, F2_GREEN), (E_PURPLE, F2_PURPLE),
                                           (E_BLUE, F2_BLUE)],
                    540, [0, 200, 400], "n = 12432", 111, 110, insets=F2_INSET)
scatF = scatter_panel("Matched primary and relapse VAF", 108, 110, F_STRIPS, F_DOTS, F_LABELS, F_LEADERS,
                      disc=F_DISC, disc_size=1050, edge=F_EDGE)

densG1 = density_panel("Primary sample: SNVs in diploid regions",
                       [("Tail", G1_TAIL_X, G1_TAIL_Y), ("C1", G1_C1_X, G1_C1_Y)],
                       ["C1", "Tail"], [C_RED, C_TAIL], G1_FIT_X, G1_FIT_Y, 0.05,
                       [(0.5, C_RED, None, None, 0)], 0.058, [0, 0.02, 0.04], 120, 128)
densG2 = density_panel("Relapse sample: SNVs in tetraploid regions",
                       [("Tail", G2_TAIL_X, G2_TAIL_Y), ("C2", G2_C2_X, G2_C2_Y), ("C1", G2_C1_X, G2_C1_Y)],
                       ["C1", "C2", "Tail"], [C_GREEN, C_ORANGE, C_TAIL], G2_FIT_X, G2_FIT_Y, 0.05,
                       [(0.25, C_ORANGE, 0.128, "After GD", -4), (0.49, C_GREEN, 0.128, "Before GD", 5)],
                       0.145, [0, 0.05, 0.1], 112, 128)
histG = hist_panel("VAF  Relapse tumour (WGD)", [(E_GRAY, G_TAIL), (E_TEAL, G_TEAL), (E_PURPLE, G_PURPLE),
                                                (E_BLUE, G_BLUE)],
                   830, [0, 200, 400, 600, 800], "n = 5573", 113, 112)
scatG = scatter_panel("Matched primary and relapse VAF", 106, 112, G_STRIPS, G_DOTS, G_LABELS, G_LEADERS,
                      edge=G_EDGE, blobs=G_BLOBS, blob_radius=11, gray=G_GRAY)
hChart = h_panel(98, 125)

# ---------------------------------------------------------------- layout
grpA = V(header("a", "MOBSTER fit (H043-8U96)", 290, 27, 12, 282, 17, 24, 0, 19),
         H(densA1, densA2, spacing=10), spacing=9)
grpB = V(V(header("b", "Evolutionary pattern", 436, 27, 26, 434, 15, 23, 0, 19),
           H(histB1, histB2, scatB, spacing=20), spacing=7),
         legend_block(LEG_B, 29, 163, 436, 18), spacing=12)
row1 = H(grpA, grpB, spacing=44)

grpC = V(header("c", "MOBSTER fit (H043-KZWS)", 290, 44, 12, 282, 33, 42, 0, 20),
         H(densC1, densC2, spacing=10), spacing=11)
grpD = V(header("d", "Evolutionary pattern", 436, 44, 22, 433, 35, 43, 0, 23),
         H(histD1, histD2, scatD, spacing=14), legend_block(LEG_D, 35, 160, 436, 24), spacing=18)
row2 = H(grpC, grpD, spacing=48)

grpE = V(header("e", "MOBSTER fit (H043-PWC258)", 340, 32, 35, 337, 23, 30, 9, 19),
         H(spacer(20), H(densE1, densE2, spacing=2), spacing=10), spacing=14)
grpF = V(header("f", "Evolutionary pattern", 424, 32, 15, 422, 23, 31, 2, 19),
         H(histF1, histF2, scatF, spacing=5), legend_block(LEG_B, 33, 147, 424, 16), spacing=17)
row3 = H(grpE, grpF, spacing=12)

grpG = V(header("g", "MOBSTER fit (H043-6F91)", 340, 37, 37, 337, 27, 35, 7, 17),
         H(spacer(20), H(densG1, densG2, spacing=5), spacing=9), spacing=13)
grpEG = V(V(header("", "Evolutionary pattern", 280, 37, 17, 275, 27, 36, 0, 16),
            H(histG, scatG, spacing=12), spacing=15),
          legend_block(LEG_G, 38, 177, 280, 32, row_step=8), spacing=20)
grpH = V(header("h", "", 100, 49, letter_x=0, letter_y=41), hChart, spacing=2)
row4 = H(H(grpG, grpEG, spacing=7), grpH, spacing=25)

chart = V(row1, V(row2, V(row3, row4, spacing=35), spacing=31), spacing=44).properties(
    padding={"left": 0, "top": -27, "right": 0, "bottom": 0}
).configure(font=FONT).configure_view(stroke=None).configure_axis(
    labelFont=FONT, titleFont=FONT).configure_legend(labelFont=FONT).configure_title(font=FONT)

chart.save("out.html", embed_options={"renderer": "svg", "actions": False})
